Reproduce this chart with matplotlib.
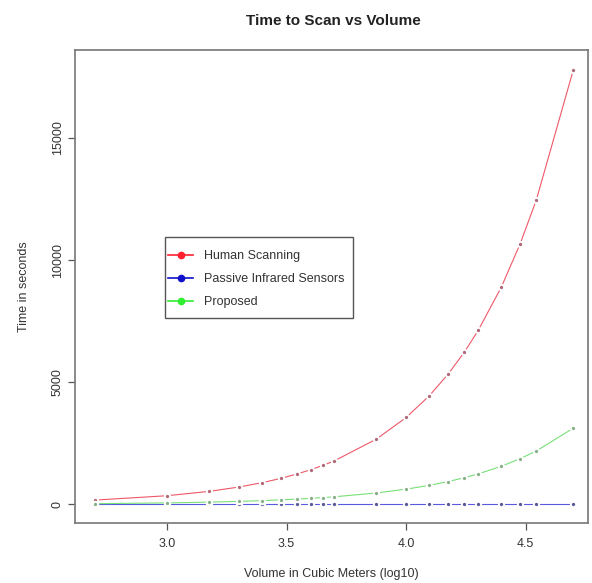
import matplotlib
matplotlib.use("Agg")
import matplotlib.pyplot as plt
from matplotlib.lines import Line2D
from matplotlib.patches import Rectangle

volume_log10 = [2.699, 3.0, 3.176, 3.301, 3.398, 3.477, 3.544, 3.602, 3.653, 3.699,
                3.875, 4.0, 4.097, 4.176, 4.243, 4.301, 4.398, 4.477, 4.544, 4.699]
human_scanning = [178, 356, 534, 712, 890, 1068, 1246, 1424, 1602, 1780,
                  2670, 3560, 4450, 5340, 6230, 7120, 8900, 10680, 12460, 17800]
passive_infrared = [10, 10, 10, 10, 10, 10, 10, 10, 10, 10,
                    10, 10, 10, 10, 10, 10, 10, 10, 10, 10]
proposed = [31, 62, 94, 125, 156, 188, 219, 250, 281, 312,
            469, 625, 781, 938, 1094, 1250, 1562, 1875, 2188, 3125]

series_names = ["Human Scanning", "Passive Infrared Sensors", "Proposed"]
line_colors = ["#ee5868", "#5858dd", "#78e078"]
marker_colors = ["#b06878", "#58589a", "#88b088"]
legend_colors = ["#ff2030", "#1010cc", "#30ee30"]

plt.rcParams['font.family'] = ['Liberation Sans', 'DejaVu Sans']

W, H = 592, 583
fig = plt.figure(figsize=(W/100, H/100), dpi=100)
ax = fig.add_axes([75/W, 60/H, 513/W, 473/H])

for ys, lc, mc in zip([human_scanning, passive_infrared, proposed], line_colors, marker_colors):
    ax.plot(volume_log10, ys, color=lc, lw=0.8, zorder=2)
    ax.plot(volume_log10, ys, linestyle='none', marker='o', markersize=3.8,
            markerfacecolor=mc, markeredgecolor='white', markeredgewidth=1.4, zorder=3)

# legend box drawn as a rectangle, entries placed inside
box = Rectangle((165/W, (H-318)/H), 188/W, 81/H, transform=fig.transFigure,
                facecolor='white', edgecolor='#555555', linewidth=1.0, zorder=4)
ax.add_patch(box)
handles = [Line2D([], [], color=c, lw=1.2, marker='o', markersize=4.5,
                  markerfacecolor=c, markeredgecolor=c) for c in legend_colors]
leg = ax.legend(handles, series_names, loc='upper left',
                bbox_to_anchor=(168/W, (H-250)/H), bbox_transform=fig.transFigure,
                fontsize=9, frameon=False, handlelength=2.0,
                borderpad=0, labelspacing=0.9, handletextpad=0.88, borderaxespad=0)
leg.set_zorder(5)
for t in leg.get_texts():
    t.set_color('#333333')

ax.set_xlim(2.616, 4.76)
ax.set_ylim(-760, 18600)
ax.set_xticks([3.0, 3.5, 4.0, 4.5])
ax.set_xticklabels(["3.0", "3.5", "4.0", "4.5"])
ax.set_yticks([0, 5000, 10000, 15000])
ax.set_yticklabels(["0", "5000", "10000", "15000"], rotation=90, va='center')
ax.tick_params(axis='x', pad=6)
ax.tick_params(axis='y', pad=3)
ax.tick_params(axis='both', labelsize=9, colors='#555555', labelcolor='#333333',
               length=5, width=0.9)

for s in ax.spines.values():
    s.set_color('#777777')
    s.set_linewidth(1.2)

ax.set_xlabel("Volume in Cubic Meters (log10)", fontsize=9, color='#333333', labelpad=13)
ax.set_ylabel("Time in seconds", fontsize=9, color='#333333', labelpad=16)
fig.text(333/W, 1 - 21/H, "Time to Scan vs Volume", ha='center', va='center',
         fontsize=11, fontweight='bold', color='#222222')

fig.savefig("out.png", dpi=100)
